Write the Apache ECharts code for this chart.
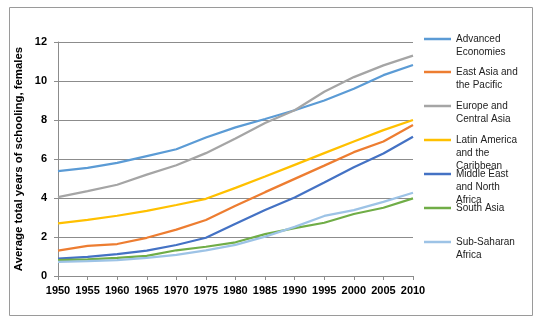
<!DOCTYPE html>
<html>
<head>
<meta charset="utf-8">
<script src="https://cdn.jsdelivr.net/npm/echarts@6/dist/echarts.min.js"></script>
<style>html,body{margin:0;padding:0;background:#fff}#c{width:540px;height:323px}</style>
</head>
<body>
<div id="c"></div>
<script>
var years = ['1950','1955','1960','1965','1970','1975','1980','1985','1990','1995','2000','2005','2010'];
var seriesNames = ['Advanced Economies','East Asia and the Pacific','Europe and Central Asia','Latin America and the Caribbean','Middle East and North Africa','South Asia','Sub-Saharan Africa'];
var legendLines = [['Advanced','Economies'],['East Asia and','the Pacific'],['Europe and','Central Asia'],['Latin America','and the','Caribbean'],['Middle East','and North','Africa'],['South Asia'],['Sub-Saharan','Africa']];
var colors = ['#5B9BD5','#ED7D31','#A5A5A5','#FFC000','#4472C4','#70AD47','#9DC3E6'];
var advanced   = [5.38,5.55,5.8,6.15,6.5,7.1,7.62,8.05,8.5,9.0,9.6,10.3,10.82];
var eastAsia   = [1.3,1.54,1.64,1.96,2.38,2.87,3.6,4.3,4.98,5.66,6.35,6.9,7.74];
var europe     = [4.05,4.35,4.68,5.2,5.68,6.3,7.05,7.85,8.5,9.45,10.2,10.8,11.3];
var latin      = [2.7,2.88,3.09,3.34,3.64,3.96,4.52,5.1,5.7,6.3,6.9,7.48,8.0];
var middleEast = [0.89,0.98,1.12,1.3,1.59,1.96,2.68,3.38,4.03,4.8,5.58,6.28,7.14];
var southAsia  = [0.82,0.85,0.93,1.03,1.32,1.5,1.73,2.15,2.45,2.73,3.18,3.5,3.98];
var subSaharan = [0.73,0.76,0.82,0.93,1.08,1.31,1.6,2.02,2.52,3.08,3.38,3.8,4.27];
var yTicks = [0,2,4,6,8,10,12];

var allData = [advanced,eastAsia,europe,latin,middleEast,southAsia,subSaharan];
var iconY = [39,72,106,140,174,208,242];
var LH = 13;

var legends = seriesNames.map(function(n,i){
  var lines = legendLines[i];
  var k = lines.length;
  var pre = '';
  for (var j = 0; j < k-1; j++) pre += ' \n';
  return {
    show:true, orient:'vertical', left:424, top: iconY[i] - (2*k-1)*LH/2,
    padding:0, itemWidth:27, itemHeight:2.5, icon:'rect',
    data:[n],
    formatter:function(){ return pre + lines.join('\n'); },
    textStyle:{fontFamily:'Liberation Sans', fontSize:10, color:'#222', lineHeight:LH}
  };
});

var chart = echarts.init(document.getElementById('c'), null, {renderer:'canvas'});
chart.setOption({
  backgroundColor:'#fff',
  animation:false,
  color:colors,
  graphic:[{type:'rect', shape:{x:9.5,y:7.5,width:523,height:308}, style:{fill:'none', stroke:'#9a9a9a', lineWidth:1}, silent:true}],
  legend:legends,
  grid:{left:58, right:127, top:42, bottom:47},
  xAxis:{
    type:'category', data:years, boundaryGap:false,
    axisLine:{lineStyle:{color:'#8c8c8c', width:1}},
    axisTick:{show:true, length:4, lineStyle:{color:'#8c8c8c'}},
    axisLabel:{fontFamily:'Liberation Sans', fontWeight:'bold', fontSize:11, color:'#000', margin:9, interval:0}
  },
  yAxis:{
    type:'value', min:yTicks[0], max:yTicks[yTicks.length-1], interval:2,
    name:'Average total years of schooling, females', nameLocation:'middle', nameGap:28,
    nameTextStyle:{fontFamily:'Liberation Sans', fontWeight:'bold', fontSize:11.4, color:'#000'},
    axisLine:{show:true, lineStyle:{color:'#8c8c8c', width:1}},
    axisTick:{show:true, length:4, lineStyle:{color:'#8c8c8c'}},
    axisLabel:{fontFamily:'Liberation Sans', fontWeight:'bold', fontSize:11, color:'#000', margin:11},
    splitLine:{lineStyle:{color:'#8c8c8c', width:1}}
  },
  series: seriesNames.map(function(n,i){
    return {name:n, type:'line', data:allData[i], symbol:'none', smooth:false,
      lineStyle:{width:2.25, color:colors[i]}, itemStyle:{color:colors[i]}};
  })
});
</script>
</body>
</html>
